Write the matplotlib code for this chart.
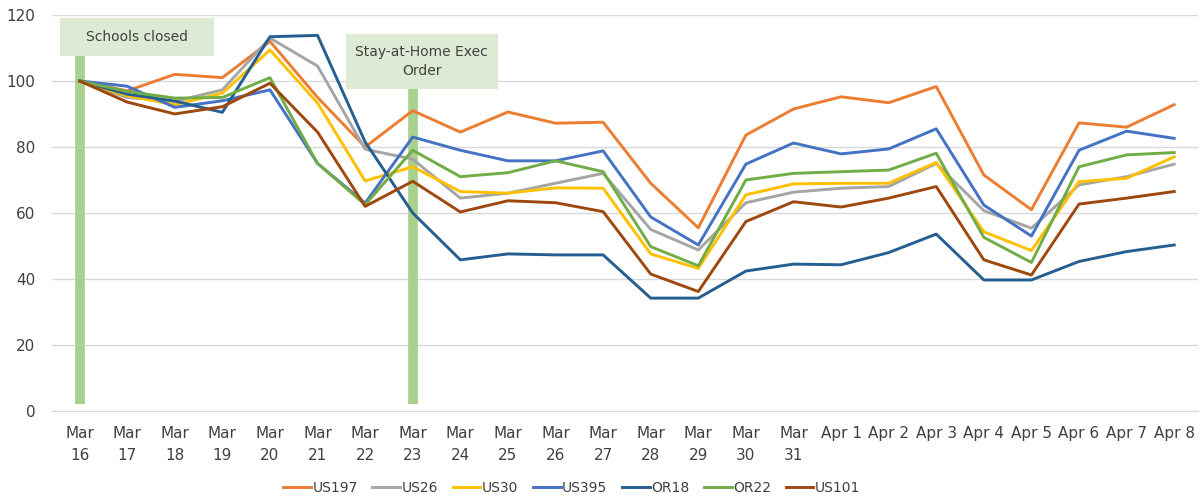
import matplotlib.pyplot as plt
from matplotlib.patches import Rectangle

days = ['Mar\n16', 'Mar\n17', 'Mar\n18', 'Mar\n19', 'Mar\n20', 'Mar\n21', 'Mar\n22', 'Mar\n23',
        'Mar\n24', 'Mar\n25', 'Mar\n26', 'Mar\n27', 'Mar\n28', 'Mar\n29', 'Mar\n30', 'Mar\n31',
        'Apr 1', 'Apr 2', 'Apr 3', 'Apr 4', 'Apr 5', 'Apr 6', 'Apr 7', 'Apr 8']

us197 = [100, 97, 102, 101, 112, 95, 80, 91, 84.5, 90.6, 87.2, 87.5, 69, 55.5, 83.6, 91.5,
         95.2, 93.4, 98.3, 71.5, 61, 87.3, 86, 92.8]
us26 = [100, 95, 93.8, 97.3, 113, 104.5, 79.3, 76.3, 64.5, 66, 69, 72, 55, 48.8, 63.1, 66.3,
        67.5, 68, 75, 60.7, 55.4, 68.5, 71, 74.8]
us30 = [100, 95.5, 92.8, 96.3, 109.4, 93.3, 69.7, 74, 66.5, 66, 67.6, 67.5, 47.6, 43.2, 65.5, 68.8,
        69, 69, 75.3, 54.3, 48.6, 69.5, 70.5, 77]
us395 = [100, 98.4, 92, 94, 97.3, 75, 63, 83, 79, 75.8, 75.8, 78.8, 58.8, 50.3, 74.8, 81.2,
         77.9, 79.4, 85.5, 62.4, 53, 79, 84.8, 82.6]
or18 = [100, 96, 93.9, 90.5, 113.4, 113.8, 81.5, 60, 45.8, 47.6, 47.3, 47.3, 34.2, 34.2, 42.4, 44.5,
        44.3, 48, 53.6, 39.7, 39.7, 45.3, 48.3, 50.3]
or22 = [100, 96.8, 94.8, 95, 101, 75, 62.5, 79, 71, 72.2, 75.8, 72.5, 49.8, 44, 70, 72,
        72.5, 73, 78.1, 52.6, 45, 74, 77.6, 78.3]
us101 = [100, 93.6, 90, 92.2, 99.3, 84.5, 62, 69.6, 60.3, 63.7, 63.1, 60.4, 41.5, 36.2, 57.4, 63.4,
         61.8, 64.5, 68, 45.8, 41.2, 62.7, 64.5, 66.5]

series = [('US197', us197, '#ED7D31'), ('US26', us26, '#A5A5A5'), ('US30', us30, '#FFC000'),
          ('US395', us395, '#4472C4'), ('OR18', or18, '#255E91'), ('OR22', or22, '#70AD47'),
          ('US101', us101, '#9E480E')]

fig = plt.figure(figsize=(12.01, 4.98), dpi=100)
ax = fig.add_axes([0.0433, 0.1747, 0.9542, 0.7953])

x = list(range(len(days)))

# event markers
ax.vlines([0, 7], [2, 2], [107.6, 97.6], colors='#A9D18E', lw=7, zorder=1)
ax.add_patch(Rectangle((-0.42, 107.6), 3.24, 11.5, facecolor='#DDEBD5', edgecolor='none', zorder=1))
ax.text(1.2, 113.4, 'Schools closed', ha='center', va='center', fontsize=10, color='#404040')
ax.add_patch(Rectangle((5.59, 97.6), 3.2, 16.6, facecolor='#DDEBD5', edgecolor='none', zorder=1))
ax.text(7.19, 105.9, 'Stay-at-Home Exec\nOrder', ha='center', va='center', fontsize=10,
        color='#404040', linespacing=1.5)

for name, vals, col in series:
    ax.plot(x, vals, color=col, lw=2.1, label=name, zorder=3)

ax.set_xlim(-0.58, 23.5)
ax.set_ylim(0, 120)
ax.set_yticks(range(0, 121, 20))
ax.set_xticks(x)
ax.set_xticklabels(days, linespacing=1.55)
ax.grid(axis='y', color='#D9D9D9', lw=1)
ax.set_axisbelow(True)
for s in ['top', 'right', 'left']:
    ax.spines[s].set_visible(False)
ax.spines['bottom'].set_color('#D9D9D9')
ax.tick_params(length=0, labelsize=11, labelcolor='#404040')
ax.tick_params(axis='x', pad=11)
ax.tick_params(axis='y', pad=12)

fig.legend(loc='center', bbox_to_anchor=(0.476, 0.021), ncol=7, frameon=False,
           fontsize=10, handlelength=2.0, handletextpad=0.1, columnspacing=1.05,
           labelcolor='#404040')

fig.savefig('out.png', dpi=100)
